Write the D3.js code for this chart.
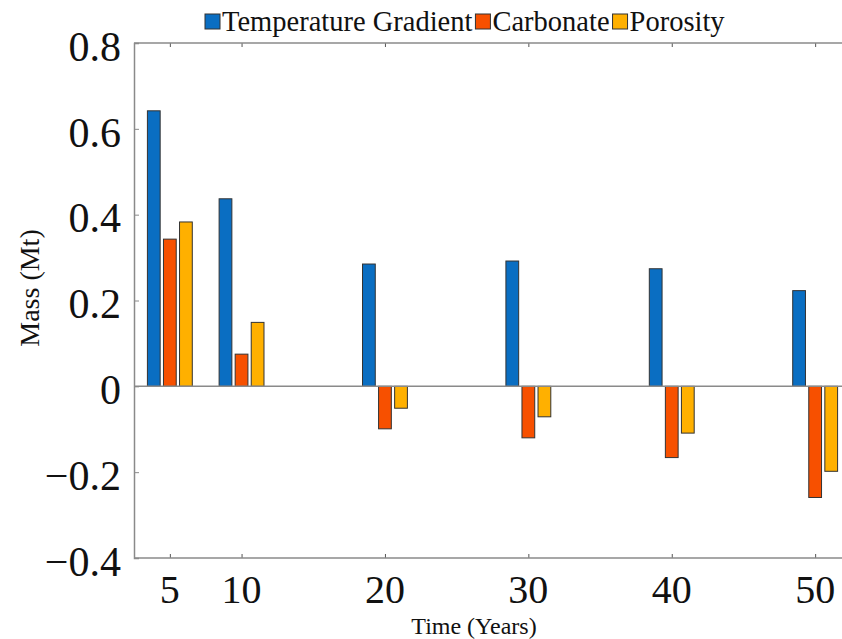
<!DOCTYPE html>
<html>
<head>
<meta charset="utf-8">
<script src="https://cdn.jsdelivr.net/npm/d3@7"></script>
<style>
  html, body { margin: 0; padding: 0; background: #fff; }
  svg { display: block; }
  text { font-family: "Liberation Serif", "Times New Roman", serif; fill: #111; }
</style>
</head>
<body>
<div id="chart"></div>
<script>
// ---- Data ----
const years = [5, 10, 20, 30, 40, 50];
const seriesNames = ["Temperature Gradient", "Carbonate", "Porosity"];
const temperatureGradient = [0.642, 0.437, 0.285, 0.292, 0.274, 0.223];
const carbonate = [0.343, 0.075, -0.099, -0.120, -0.166, -0.259];
const porosity = [0.383, 0.149, -0.051, -0.071, -0.109, -0.198];
const yTicks = [-0.4, -0.2, 0, 0.2, 0.4, 0.6, 0.8];
const xTicks = [5, 10, 20, 30, 40, 50];
const colors = ["#0A6EC2", "#F75000", "#FFB000"];

const seriesValues = [temperatureGradient, carbonate, porosity];

// ---- Layout ----
const W = 842, H = 639;
const plotLeft = 134, plotTop = 43, plotBottom = 558;

const svg = d3.select("#chart").append("svg").attr("width", W).attr("height", H);

const x = d3.scaleLinear().domain([2.5, 52]).range([plotLeft, plotLeft + 49.5 * 14.34]);
const y = d3.scaleLinear().domain([-0.4, 0.8]).range([plotBottom, plotTop]);

const barStep = 1.12;   // years between bars in a group
const barWidth = 0.89;  // years

// bars
seriesValues.forEach((vals, k) => {
  const off = (k - 1) * barStep;
  svg.append("g").selectAll("rect").data(years.map((t, i) => ({ t, v: vals[i] })))
    .enter().append("rect")
    .attr("x", d => x(d.t + off - barWidth / 2))
    .attr("width", d => x(d.t + off + barWidth / 2) - x(d.t + off - barWidth / 2))
    .attr("y", d => Math.min(y(d.v), y(0)))
    .attr("height", d => Math.abs(y(d.v) - y(0)))
    .attr("fill", colors[k])
    .attr("stroke", "#333")
    .attr("stroke-width", 1);
});

// zero baseline
svg.append("line")
  .attr("x1", x.range()[0]).attr("x2", W)
  .attr("y1", y(0)).attr("y2", y(0))
  .attr("stroke", "#8a8a8a").attr("stroke-width", 1.5);

const axisColor = "#8a8a8a";

// left axis (inward ticks)
const yAxis = d3.axisRight(y).tickValues(yTicks).tickSize(5).tickFormat("");
const gy = svg.append("g").attr("transform", `translate(${plotLeft},0)`).call(yAxis);
gy.select(".domain").attr("stroke", axisColor).attr("stroke-width", 1.5);
gy.selectAll(".tick line").attr("stroke", axisColor);

// y tick labels
svg.append("g").selectAll("text").data(yTicks).enter().append("text")
  .attr("x", 121)
  .attr("y", d => y(d) + 3)
  .attr("dy", "0.35em")
  .attr("text-anchor", "end")
  .attr("font-size", 42)
  .text(d => d === 0 ? "0" : (d < 0 ? "\u2212" : "") + Math.abs(d).toFixed(1));

// bottom axis (inward ticks)
const xAxis = d3.axisTop(x).tickValues(xTicks).tickSize(4).tickFormat("");
const gx = svg.append("g").attr("transform", `translate(0,${plotBottom})`).call(xAxis);
gx.select(".domain").remove();
gx.selectAll(".tick line").attr("stroke", "#555");
svg.append("line").attr("x1", plotLeft).attr("x2", W).attr("y1", plotBottom).attr("y2", plotBottom)
  .attr("stroke", axisColor).attr("stroke-width", 1.5);

// top border with inward ticks
const xAxisTop = d3.axisBottom(x).tickValues(xTicks).tickSize(4).tickFormat("");
const gxt = svg.append("g").attr("transform", `translate(0,${plotTop})`).call(xAxisTop);
gxt.select(".domain").remove();
gxt.selectAll(".tick line").attr("stroke", "#555");
svg.append("line").attr("x1", plotLeft).attr("x2", W).attr("y1", plotTop).attr("y2", plotTop)
  .attr("stroke", axisColor).attr("stroke-width", 1.5);

// x tick labels
svg.append("g").selectAll("text").data(xTicks).enter().append("text")
  .attr("x", d => x(d))
  .attr("y", 603)
  .attr("text-anchor", "middle")
  .attr("font-size", 40)
  .text(d => d);

// axis titles
svg.append("text")
  .attr("x", 474).attr("y", 633.5)
  .attr("text-anchor", "middle")
  .attr("font-size", 24)
  .text("Time (Years)");

svg.append("text")
  .attr("transform", "translate(39,288) rotate(-90)")
  .attr("text-anchor", "middle")
  .attr("font-size", 28)
  .text("Mass (Mt)");

// legend
const legend = svg.append("g");
let lx = 205;
seriesNames.forEach((name, k) => {
  legend.append("rect")
    .attr("x", lx).attr("y", 14).attr("width", 15).attr("height", 15)
    .attr("fill", colors[k]).attr("stroke", "#333").attr("stroke-width", 1);
  const t = legend.append("text")
    .attr("x", lx + 17).attr("y", 31)
    .attr("font-size", 28.5)
    .text(name);
  lx += 17 + t.node().getComputedTextLength() + 3;
});
</script>
</body>
</html>
